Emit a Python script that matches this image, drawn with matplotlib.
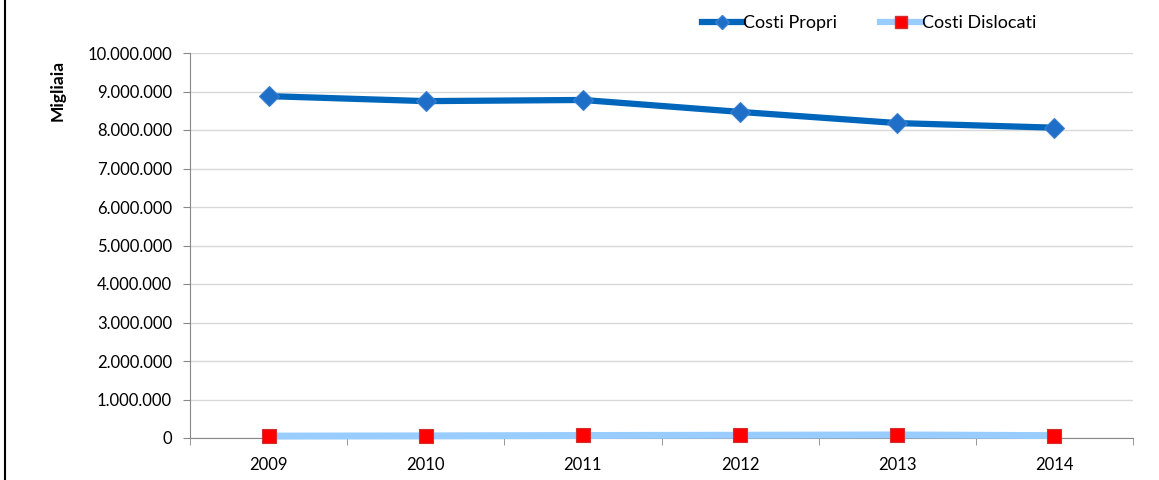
import matplotlib
matplotlib.use("Agg")
import matplotlib.pyplot as plt
from matplotlib.lines import Line2D
from matplotlib.ticker import FuncFormatter, MultipleLocator

years = ["2009", "2010", "2011", "2012", "2013", "2014"]
costi_propri = [8880000, 8750000, 8780000, 8470000, 8180000, 8060000]
costi_dislocati = [50000, 55000, 65000, 72000, 80000, 62000]

plt.rcParams['font.family'] = ['Lato', 'DejaVu Sans']

fig = plt.figure(figsize=(11.59, 4.8), dpi=100)
ax = fig.add_axes([190/1159, 42/480, (1133-190)/1159, (438-53)/480])

x = list(range(len(years)))
ax.plot(x, costi_dislocati, color='#99CCFF', lw=5, marker='s', ms=10.5,
        mfc='#FF0000', mec='#D03030', mew=0.8, label='Costi Dislocati', zorder=3,
        clip_on=False)
ax.plot(x, costi_propri, color='#0066BB', lw=4.5, marker='D', ms=10,
        mfc='#1F6FC8', mec='#3A7FD0', mew=0.8, label='Costi Propri', zorder=4)

ax.set_xlim(-0.5, len(years) - 0.5)
ax.set_ylim(0, 10000000)
ax.yaxis.set_major_locator(MultipleLocator(1000000))
ax.yaxis.set_major_formatter(FuncFormatter(lambda v, p: f"{int(v):,}".replace(",", ".")))
ax.set_xticks(x)
ax.set_xticklabels(years)
ax.set_xticks([i - 0.5 for i in range(len(years) + 1)], minor=True)
ax.tick_params(axis='x', which='major', length=0, pad=14, labelsize=12)
ax.tick_params(axis='x', which='minor', length=5, color='#888888', direction='out')
ax.tick_params(axis='y', length=5, color='#888888', pad=8, labelsize=12)

ax.grid(axis='y', color='#D9D9D9', lw=1)
ax.set_axisbelow(True)
for s in ['top', 'right']:
    ax.spines[s].set_visible(False)
ax.spines['left'].set_color('#888888')
ax.spines['bottom'].set_color('#888888')

fig.text(58/1159, 1 - 90/480, 'Migliaia', rotation=90, fontsize=12.5,
         fontweight='bold', ha='center', va='center')

handles = [
    Line2D([], [], color='#0066BB', lw=4.5, marker='D', ms=7, mfc='#1F6FC8', mec='#3A7FD0'),
    Line2D([], [], color='#99CCFF', lw=4.5, marker='s', ms=9, mfc='#FF0000', mec='#D03030'),
]
fig.legend(handles, ['Costi Propri', 'Costi Dislocati'], loc='center',
           bbox_to_anchor=(869/1159, 1 - 23/480), ncol=2, frameon=False,
           fontsize=13, handlelength=2.3, handletextpad=0.0, columnspacing=2.4)

fig.add_artist(Line2D([5/1159, 5/1159], [0, 1], color='black', lw=1.5))

fig.savefig('out.png', dpi=100)
